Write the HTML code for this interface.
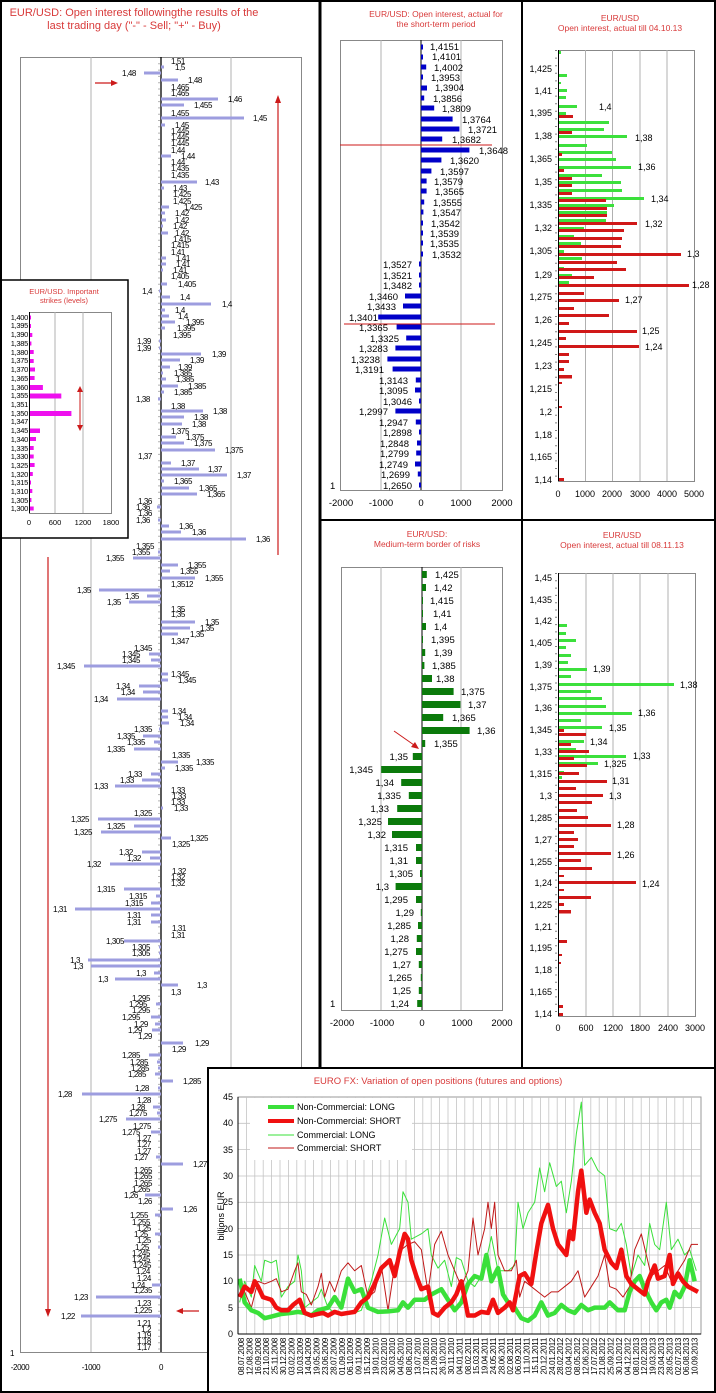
<!DOCTYPE html>
<html><head><meta charset="utf-8"><style>
html,body{margin:0;padding:0;background:#fff}
svg{display:block;font-family:"Liberation Sans",Arial,sans-serif}
.b{fill:#9d9ddf}
.t{font-size:8px;letter-spacing:-0.4px;fill:#000}
.m{font-size:9.5px;fill:#000}
.r{font-size:9px;fill:#000}
.ttl{fill:#d83a3a;text-anchor:middle}
.ax{font-size:9px;fill:#000}
.g{stroke:#b0b0b0;stroke-width:1}
.gb{fill:#0000c8}
.gg{fill:#0b7a0b}
.lg{fill:#3ce03c}
.lr{fill:#d01818}
</style></head><body>
<svg width="716" height="1393" viewBox="0 0 716 1393" xmlns="http://www.w3.org/2000/svg">
<rect width="716" height="1393" fill="#fff"/>

<!-- ================= LEFT BIG CHART ================= -->
<text class="ttl" x="134" y="16" font-size="11">EUR/USD: Open interest followingthe results of the</text>
<text class="ttl" x="134" y="29" font-size="11">last trading day ("-" - Sell; "+" - Buy)</text>
<rect x="20.5" y="57.5" width="281" height="1295" fill="none" stroke="#888"/>
<line class="g" x1="91" y1="57" x2="91" y2="1352"/>
<line class="g" x1="231" y1="57" x2="231" y2="1352"/>
<line x1="161" y1="57" x2="161" y2="1352" stroke="#000" stroke-width="1.3"/>
<line x1="159" y1="57" x2="159" y2="1352" stroke="#666" stroke-width="1" stroke-dasharray="1,5.3"/>
<g class="t">
<text x="10" y="1356">1</text>
<text x="20" y="1370" text-anchor="middle">-2000</text>
<text x="91" y="1370" text-anchor="middle">-1000</text>
<text x="161" y="1370" text-anchor="middle">0</text>
</g>
<g id="lb">
<rect class="b" x="161" y="65.5" width="3" height="3"/><rect class="b" x="144" y="71.5" width="17" height="3"/><rect class="b" x="161" y="78.5" width="17" height="3"/><rect class="b" x="161" y="97.5" width="57" height="3"/><rect class="b" x="161" y="103.5" width="23" height="3"/><rect class="b" x="161" y="116.5" width="83" height="3"/><rect class="b" x="161" y="123.5" width="4" height="3"/><rect class="b" x="161" y="154.5" width="10" height="3"/><rect class="b" x="161" y="180.5" width="36" height="3"/><rect class="b" x="161" y="186.5" width="3" height="3"/><rect class="b" x="161" y="205.5" width="8" height="3"/><rect class="b" x="161" y="211.5" width="4" height="3"/><rect class="b" x="161" y="218.5" width="5" height="3"/><rect class="b" x="161" y="224.5" width="2" height="3"/><rect class="b" x="161" y="231.5" width="7" height="3"/><rect class="b" x="161" y="256.5" width="5" height="3"/><rect class="b" x="161" y="262.5" width="5" height="3"/><rect class="b" x="161" y="268.5" width="2" height="3"/><rect class="b" x="161" y="282.5" width="6" height="3"/><rect class="b" x="159" y="289.5" width="2" height="3"/><rect class="b" x="161" y="295.5" width="9" height="3"/><rect class="b" x="161" y="302.5" width="50" height="3"/><rect class="b" x="161" y="308.5" width="4" height="3"/><rect class="b" x="161" y="314.5" width="8" height="3"/><rect class="b" x="161" y="320.5" width="14" height="3"/><rect class="b" x="161" y="326.5" width="4" height="3"/><rect class="b" x="159" y="339.5" width="2" height="3"/><rect class="b" x="159" y="346.5" width="2" height="3"/><rect class="b" x="161" y="352.5" width="40" height="3"/><rect class="b" x="161" y="358.5" width="19" height="3"/><rect class="b" x="161" y="365.5" width="9" height="3"/><rect class="b" x="161" y="371.5" width="2" height="3"/><rect class="b" x="161" y="377.5" width="5" height="3"/><rect class="b" x="161" y="384.5" width="17" height="3"/><rect class="b" x="161" y="390.5" width="3" height="3"/><rect class="b" x="158" y="397.5" width="3" height="3"/><rect class="b" x="161" y="409.5" width="42" height="3"/><rect class="b" x="161" y="415.5" width="23" height="3"/><rect class="b" x="161" y="422.5" width="21" height="3"/><rect class="b" x="161" y="435.5" width="15" height="3"/><rect class="b" x="161" y="441.5" width="23" height="3"/><rect class="b" x="161" y="448.5" width="54" height="3"/><rect class="b" x="161" y="461.5" width="10" height="3"/><rect class="b" x="161" y="467.5" width="38" height="3"/><rect class="b" x="161" y="473.5" width="66" height="3"/><rect class="b" x="161" y="479.5" width="3" height="3"/><rect class="b" x="161" y="486.5" width="28" height="3"/><rect class="b" x="161" y="492.5" width="36" height="3"/><rect class="b" x="157" y="505.5" width="4" height="3"/><rect class="b" x="158" y="518.5" width="3" height="3"/><rect class="b" x="161" y="524.5" width="8" height="3"/><rect class="b" x="161" y="530.5" width="20" height="3"/><rect class="b" x="161" y="537.5" width="85" height="3"/><rect class="b" x="158" y="550.5" width="3" height="3"/><rect class="b" x="133" y="556.5" width="28" height="3"/><rect class="b" x="161" y="563.5" width="17" height="3"/><rect class="b" x="161" y="569.5" width="9" height="3"/><rect class="b" x="161" y="576.5" width="34" height="3"/><rect class="b" x="99" y="588.5" width="62" height="3"/><rect class="b" x="147" y="594.5" width="14" height="3"/><rect class="b" x="129" y="600.5" width="32" height="3"/><rect class="b" x="161" y="620.5" width="34" height="3"/><rect class="b" x="161" y="626.5" width="29" height="3"/><rect class="b" x="161" y="632.5" width="17" height="3"/><rect class="b" x="149" y="652.5" width="12" height="3"/><rect class="b" x="151" y="658.5" width="10" height="3"/><rect class="b" x="84" y="664.5" width="77" height="3"/><rect class="b" x="161" y="672.5" width="7" height="3"/><rect class="b" x="161" y="678.5" width="7" height="3"/><rect class="b" x="139" y="684.5" width="22" height="3"/><rect class="b" x="143" y="690.5" width="18" height="3"/><rect class="b" x="117" y="697.5" width="44" height="3"/><rect class="b" x="161" y="709.5" width="7" height="3"/><rect class="b" x="161" y="715.5" width="7" height="3"/><rect class="b" x="161" y="721.5" width="8" height="3"/><rect class="b" x="159" y="727.5" width="2" height="3"/><rect class="b" x="143" y="734.5" width="18" height="3"/><rect class="b" x="154" y="740.5" width="7" height="3"/><rect class="b" x="134" y="747.5" width="27" height="3"/><rect class="b" x="161" y="760.5" width="17" height="3"/><rect class="b" x="161" y="766.5" width="4" height="3"/><rect class="b" x="151" y="772.5" width="10" height="3"/><rect class="b" x="142" y="778.5" width="19" height="3"/><rect class="b" x="115" y="784.5" width="46" height="3"/><rect class="b" x="161" y="806.5" width="2" height="3"/><rect class="b" x="98" y="817.5" width="63" height="3"/><rect class="b" x="134" y="824.5" width="27" height="3"/><rect class="b" x="101" y="830.5" width="60" height="3"/><rect class="b" x="161" y="836.5" width="10" height="3"/><rect class="b" x="142" y="850.5" width="19" height="3"/><rect class="b" x="150" y="856.5" width="11" height="3"/><rect class="b" x="110" y="862.5" width="51" height="3"/><rect class="b" x="124" y="887.5" width="37" height="3"/><rect class="b" x="156" y="894.5" width="5" height="3"/><rect class="b" x="151" y="901.5" width="10" height="3"/><rect class="b" x="75" y="907.5" width="86" height="3"/><rect class="b" x="151" y="913.5" width="10" height="3"/><rect class="b" x="151" y="920.5" width="10" height="3"/><rect class="b" x="124" y="939.5" width="37" height="3"/><rect class="b" x="159" y="945.5" width="2" height="3"/><rect class="b" x="159" y="951.5" width="2" height="3"/><rect class="b" x="88" y="958.5" width="73" height="3"/><rect class="b" x="91" y="964.5" width="70" height="3"/><rect class="b" x="154" y="971.5" width="7" height="3"/><rect class="b" x="115" y="977.5" width="46" height="3"/><rect class="b" x="161" y="983.5" width="17" height="3"/><rect class="b" x="156" y="1002.5" width="5" height="3"/><rect class="b" x="151" y="1015.5" width="10" height="3"/><rect class="b" x="155" y="1022.5" width="6" height="3"/><rect class="b" x="152" y="1028.5" width="9" height="3"/><rect class="b" x="161" y="1041.5" width="22" height="3"/><rect class="b" x="149" y="1053.5" width="12" height="3"/><rect class="b" x="157" y="1060.5" width="4" height="3"/><rect class="b" x="158" y="1066.5" width="3" height="3"/><rect class="b" x="155" y="1072.5" width="6" height="3"/><rect class="b" x="161" y="1079.5" width="12" height="3"/><rect class="b" x="158" y="1086.5" width="3" height="3"/><rect class="b" x="82" y="1092.5" width="79" height="3"/><rect class="b" x="153" y="1105.5" width="8" height="3"/><rect class="b" x="157" y="1111.5" width="4" height="3"/><rect class="b" x="126" y="1117.5" width="35" height="3"/><rect class="b" x="151" y="1130.5" width="10" height="3"/><rect class="b" x="156" y="1155.5" width="5" height="3"/><rect class="b" x="161" y="1162.5" width="22" height="3"/><rect class="b" x="145" y="1193.5" width="16" height="3"/><rect class="b" x="161" y="1207.5" width="12" height="3"/><rect class="b" x="155" y="1213.5" width="6" height="3"/><rect class="b" x="155" y="1232.5" width="6" height="3"/><rect class="b" x="158" y="1245.5" width="3" height="3"/><rect class="b" x="152" y="1283.5" width="9" height="3"/><rect class="b" x="96" y="1295.5" width="65" height="3"/><rect class="b" x="81" y="1314.5" width="80" height="3"/>
</g>
<g class="t">
<text x="171" y="64">1,51</text><text x="175" y="70">1,5</text><text x="136" y="76" text-anchor="end">1,48</text><text x="188" y="83">1,48</text><text x="171" y="90">1,465</text><text x="171" y="96">1,465</text><text x="228" y="102">1,46</text><text x="194" y="108">1,455</text><text x="171" y="116">1,455</text><text x="253" y="121">1,45</text><text x="175" y="128">1,45</text><text x="171" y="134">1,445</text><text x="171" y="140">1,445</text><text x="171" y="146">1,445</text><text x="171" y="153">1,44</text><text x="181" y="159">1,44</text><text x="171" y="165">1,44</text><text x="171" y="171">1,435</text><text x="171" y="178">1,435</text><text x="205" y="185">1,43</text><text x="173" y="191">1,43</text><text x="173" y="197">1,425</text><text x="173" y="204">1,425</text><text x="184" y="210">1,425</text><text x="175" y="216">1,42</text><text x="175" y="223">1,42</text><text x="173" y="229">1,42</text><text x="175" y="236">1,42</text><text x="173" y="242">1,415</text><text x="171" y="248">1,415</text><text x="171" y="255">1,41</text><text x="176" y="261">1,41</text><text x="176" y="267">1,41</text><text x="173" y="273">1,41</text><text x="171" y="279">1,405</text><text x="178" y="287">1,405</text><text x="152" y="294" text-anchor="end">1,4</text><text x="180" y="300">1,4</text><text x="222" y="307">1,4</text><text x="175" y="313">1,4</text><text x="178" y="319">1,4</text><text x="186" y="325">1,395</text><text x="177" y="331">1,395</text><text x="173" y="338">1,395</text><text x="151" y="344" text-anchor="end">1,39</text><text x="151" y="351" text-anchor="end">1,39</text><text x="212" y="357">1,39</text><text x="190" y="363">1,39</text><text x="178" y="370">1,39</text><text x="174" y="376">1,385</text><text x="176" y="382">1,385</text><text x="188" y="389">1,385</text><text x="174" y="395">1,385</text><text x="150" y="402" text-anchor="end">1,38</text><text x="171" y="409">1,38</text><text x="213" y="414">1,38</text><text x="194" y="420">1,38</text><text x="192" y="427">1,38</text><text x="171" y="434">1,375</text><text x="186" y="440">1,375</text><text x="194" y="446">1,375</text><text x="225" y="453">1,375</text><text x="152" y="459" text-anchor="end">1,37</text><text x="181" y="466">1,37</text><text x="208" y="472">1,37</text><text x="237" y="478">1,37</text><text x="174" y="484">1,365</text><text x="199" y="491">1,365</text><text x="207" y="497">1,365</text><text x="152" y="504" text-anchor="end">1,36</text><text x="150" y="510" text-anchor="end">1,36</text><text x="152" y="516" text-anchor="end">1,36</text><text x="150" y="523" text-anchor="end">1,36</text><text x="179" y="529">1,36</text><text x="192" y="535">1,36</text><text x="256" y="542">1,36</text><text x="154" y="549" text-anchor="end">1,355</text><text x="150" y="555" text-anchor="end">1,355</text><text x="124" y="561" text-anchor="end">1,355</text><text x="188" y="568">1,355</text><text x="180" y="574">1,355</text><text x="205" y="581">1,355</text><text x="171" y="587">1,3512</text><text x="91" y="593" text-anchor="end">1,35</text><text x="139" y="599" text-anchor="end">1,35</text><text x="121" y="605" text-anchor="end">1,35</text><text x="171" y="612">1,35</text><text x="171" y="617">1,35</text><text x="205" y="625">1,35</text><text x="200" y="631">1,35</text><text x="190" y="637">1,35</text><text x="171" y="644">1,347</text><text x="152" y="651" text-anchor="end">1,345</text><text x="140" y="657" text-anchor="end">1,345</text><text x="140" y="663" text-anchor="end">1,345</text><text x="75" y="669" text-anchor="end">1,345</text><text x="171" y="677">1,345</text><text x="178" y="683">1,345</text><text x="130" y="689" text-anchor="end">1,34</text><text x="135" y="695" text-anchor="end">1,34</text><text x="108" y="702" text-anchor="end">1,34</text><text x="172" y="714">1,34</text><text x="178" y="720">1,34</text><text x="180" y="726">1,34</text><text x="152" y="732" text-anchor="end">1,335</text><text x="135" y="739" text-anchor="end">1,335</text><text x="145" y="745" text-anchor="end">1,335</text><text x="125" y="752" text-anchor="end">1,335</text><text x="172" y="758">1,335</text><text x="196" y="765">1,335</text><text x="175" y="771">1,335</text><text x="142" y="777" text-anchor="end">1,33</text><text x="134" y="783" text-anchor="end">1,33</text><text x="108" y="789" text-anchor="end">1,33</text><text x="171" y="793">1,33</text><text x="172" y="799">1,33</text><text x="171" y="805">1,33</text><text x="174" y="811">1,33</text><text x="152" y="816" text-anchor="end">1,325</text><text x="89" y="822" text-anchor="end">1,325</text><text x="125" y="829" text-anchor="end">1,325</text><text x="92" y="835" text-anchor="end">1,325</text><text x="190" y="841">1,325</text><text x="172" y="847">1,325</text><text x="133" y="855" text-anchor="end">1,32</text><text x="141" y="861" text-anchor="end">1,32</text><text x="101" y="867" text-anchor="end">1,32</text><text x="172" y="874">1,32</text><text x="171" y="880">1,32</text><text x="171" y="886">1,32</text><text x="115" y="892" text-anchor="end">1,315</text><text x="147" y="899" text-anchor="end">1,315</text><text x="143" y="906" text-anchor="end">1,315</text><text x="67" y="912" text-anchor="end">1,31</text><text x="141" y="918" text-anchor="end">1,31</text><text x="141" y="925" text-anchor="end">1,31</text><text x="172" y="931">1,31</text><text x="171" y="938">1,31</text><text x="124" y="944" text-anchor="end">1,305</text><text x="150" y="950" text-anchor="end">1,305</text><text x="150" y="956" text-anchor="end">1,305</text><text x="80" y="963" text-anchor="end">1,3</text><text x="83" y="969" text-anchor="end">1,3</text><text x="146" y="976" text-anchor="end">1,3</text><text x="108" y="982" text-anchor="end">1,3</text><text x="197" y="988">1,3</text><text x="171" y="995">1,3</text><text x="150" y="1001" text-anchor="end">1,295</text><text x="147" y="1007" text-anchor="end">1,295</text><text x="150" y="1013" text-anchor="end">1,295</text><text x="140" y="1020" text-anchor="end">1,295</text><text x="148" y="1027" text-anchor="end">1,29</text><text x="142" y="1033" text-anchor="end">1,29</text><text x="152" y="1039" text-anchor="end">1,29</text><text x="195" y="1046">1,29</text><text x="172" y="1052">1,29</text><text x="140" y="1058" text-anchor="end">1,285</text><text x="148" y="1065" text-anchor="end">1,285</text><text x="149" y="1071" text-anchor="end">1,285</text><text x="146" y="1077" text-anchor="end">1,285</text><text x="183" y="1084">1,285</text><text x="149" y="1091" text-anchor="end">1,28</text><text x="72" y="1097" text-anchor="end">1,28</text><text x="151" y="1103" text-anchor="end">1,28</text><text x="145" y="1110" text-anchor="end">1,28</text><text x="147" y="1116" text-anchor="end">1,275</text><text x="117" y="1122" text-anchor="end">1,275</text><text x="151" y="1129" text-anchor="end">1,275</text><text x="140" y="1135" text-anchor="end">1,275</text><text x="151" y="1141" text-anchor="end">1,27</text><text x="151" y="1147" text-anchor="end">1,27</text><text x="151" y="1154" text-anchor="end">1,27</text><text x="148" y="1160" text-anchor="end">1,27</text><text x="193" y="1167">1,27</text><text x="152" y="1173" text-anchor="end">1,265</text><text x="152" y="1179" text-anchor="end">1,265</text><text x="152" y="1186" text-anchor="end">1,265</text><text x="150" y="1192" text-anchor="end">1,265</text><text x="138" y="1198" text-anchor="end">1,26</text><text x="152" y="1204" text-anchor="end">1,26</text><text x="183" y="1212">1,26</text><text x="148" y="1218" text-anchor="end">1,255</text><text x="150" y="1225" text-anchor="end">1,255</text><text x="151" y="1231" text-anchor="end">1,25</text><text x="148" y="1237" text-anchor="end">1,25</text><text x="151" y="1243" text-anchor="end">1,25</text><text x="149" y="1250" text-anchor="end">1,25</text><text x="150" y="1256" text-anchor="end">1,245</text><text x="150" y="1262" text-anchor="end">1,245</text><text x="151" y="1268" text-anchor="end">1,245</text><text x="150" y="1274" text-anchor="end">1,24</text><text x="151" y="1281" text-anchor="end">1,24</text><text x="145" y="1288" text-anchor="end">1,24</text><text x="152" y="1293" text-anchor="end">1,235</text><text x="88" y="1300" text-anchor="end">1,23</text><text x="151" y="1306" text-anchor="end">1,23</text><text x="152" y="1313" text-anchor="end">1,225</text><text x="75" y="1319" text-anchor="end">1,22</text><text x="151" y="1326" text-anchor="end">1,21</text><text x="151" y="1332" text-anchor="end">1,2</text><text x="151" y="1338" text-anchor="end">1,19</text><text x="151" y="1344" text-anchor="end">1,18</text><text x="151" y="1350" text-anchor="end">1,17</text>
</g>
<!-- left chart arrows -->
<g stroke="#cc1a1a" stroke-width="1.2" fill="#cc1a1a">
<line x1="95" y1="83" x2="113" y2="83"/><path d="M118,83 l-7,-3 v6z" stroke="none"/>
<line x1="278" y1="100" x2="278" y2="555"/><path d="M278,95 l-3,8 h6z" stroke="none"/>
<line x1="48" y1="557" x2="48" y2="1310"/><path d="M48,1317 l-3,-8 h6z" stroke="none"/>
<line x1="182" y1="1311" x2="199" y2="1311"/><path d="M176,1311 l7,-3 v6z" stroke="none"/>
</g>

<!-- Important strikes inset -->
<rect x="1" y="280" width="127" height="258" fill="#fff" stroke="#000" stroke-width="1.5"/>
<text class="ttl" x="64" y="294" font-size="7.5">EUR/USD. Important</text>
<text class="ttl" x="64" y="303" font-size="7.5">strikes (levels)</text>
<rect x="29.5" y="312.5" width="82" height="201" fill="none" stroke="#888"/>
<line class="g" x1="55" y1="312" x2="55" y2="513"/><line class="g" x1="83" y1="312" x2="83" y2="513"/>
<line x1="29.5" y1="312" x2="29.5" y2="513" stroke="#000"/>
<g fill="#ee10ee">
<rect x="30" y="315.5" width="1" height="4"/><rect x="30" y="324" width="1" height="4"/><rect x="30" y="333" width="2.3" height="4"/><rect x="30" y="341.5" width="1.4" height="4"/><rect x="30" y="350" width="3.7" height="4"/><rect x="30" y="359" width="3.7" height="4"/><rect x="30" y="367.5" width="5" height="4"/><rect x="30" y="376" width="4.6" height="4"/><rect x="30" y="385" width="12.9" height="5"/><rect x="30" y="393.5" width="31.3" height="5"/><rect x="30" y="411" width="41.4" height="5"/><rect x="30" y="428.5" width="10" height="4.5"/><rect x="30" y="437" width="6" height="4"/><rect x="30" y="446" width="3.7" height="4"/><rect x="30" y="454.5" width="3.7" height="4"/><rect x="30" y="463" width="4.6" height="4"/><rect x="30" y="472" width="2.8" height="4"/><rect x="30" y="480.5" width="1" height="4"/><rect x="30" y="489" width="2.3" height="4"/><rect x="30" y="498" width="1.4" height="4"/><rect x="30" y="506.5" width="3.7" height="4"/>
</g>
<g font-size="7.5" text-anchor="end" fill="#000" letter-spacing="-0.3">
<text x="28" y="320">1,400</text><text x="28" y="328">1,395</text><text x="28" y="337">1,390</text><text x="28" y="346">1,385</text><text x="28" y="355">1,380</text><text x="28" y="363">1,375</text><text x="28" y="372">1,370</text><text x="28" y="381">1,365</text><text x="28" y="390">1,360</text><text x="28" y="398">1,355</text><text x="28" y="407">1,351</text><text x="28" y="416">1,350</text><text x="28" y="424">1,347</text><text x="28" y="433">1,345</text><text x="28" y="442">1,340</text><text x="28" y="451">1,335</text><text x="28" y="459">1,330</text><text x="28" y="468">1,325</text><text x="28" y="477">1,320</text><text x="28" y="485">1,315</text><text x="28" y="494">1,310</text><text x="28" y="503">1,305</text><text x="28" y="511">1,300</text>
</g>
<g font-size="7.5" text-anchor="middle" fill="#000"><text x="29" y="525">0</text><text x="55" y="525">600</text><text x="83" y="525">1200</text><text x="111" y="525">1800</text></g>
<g stroke="#cc1a1a" fill="#cc1a1a" stroke-width="1"><line x1="80" y1="390" x2="80" y2="427"/><path d="M80,386 l-3,6 h6z M80,431 l-3,-6 h6z" stroke="none"/></g>

<!-- ================= MID TOP ================= -->
<text class="ttl" x="436" y="17" font-size="8.5">EUR/USD: Open interest, actual for</text>
<text class="ttl" x="436" y="27" font-size="8.5">the short-term period</text>
<rect x="340.5" y="40.5" width="162" height="450" fill="none" stroke="#888"/>
<line class="g" x1="381" y1="40" x2="381" y2="490"/><line class="g" x1="461" y1="40" x2="461" y2="490"/>
<line x1="421" y1="40" x2="421" y2="490" stroke="#000"/>
<g class="gb">
<rect x="421" y="44.5" width="2" height="5"/><rect x="421" y="54.5" width="2" height="5"/><rect x="421" y="64.5" width="5.2" height="5"/><rect x="421" y="74.5" width="2" height="5"/><rect x="421" y="85.5" width="6" height="5"/><rect x="421" y="95.5" width="3.2" height="5"/><rect x="421" y="105.5" width="13.2" height="5"/><rect x="421" y="116.5" width="31.6" height="5"/><rect x="421" y="126.5" width="38.4" height="5"/><rect x="421" y="136.5" width="21.2" height="5"/><rect x="421" y="147.5" width="48.4" height="5"/><rect x="421" y="157.5" width="20.4" height="5"/><rect x="421" y="168.5" width="10.4" height="5"/><rect x="421" y="178.5" width="5.6" height="5"/><rect x="421" y="188.5" width="5.6" height="5"/><rect x="421" y="199.5" width="3.2" height="5"/><rect x="421" y="209.5" width="2.4" height="5"/><rect x="421" y="220.5" width="2" height="5"/><rect x="421" y="230.5" width="2" height="5"/><rect x="421" y="240.5" width="2" height="5"/><rect x="421" y="251.5" width="2" height="5"/>
<rect x="419" y="261.5" width="2" height="5"/><rect x="419" y="272.5" width="2" height="5"/><rect x="419" y="282.5" width="2" height="5"/><rect x="405" y="293.5" width="16" height="5"/><rect x="403" y="303.5" width="18" height="5"/><rect x="378.2" y="314.5" width="42.8" height="5"/><rect x="396.6" y="324.5" width="24.4" height="5"/><rect x="406.2" y="335.5" width="14.8" height="5"/><rect x="395.4" y="345.5" width="25.6" height="5"/><rect x="387.4" y="356.5" width="33.6" height="5"/><rect x="392.6" y="366.5" width="28.4" height="5"/><rect x="415.8" y="377.5" width="5.2" height="5"/><rect x="415" y="387.5" width="6" height="5"/><rect x="419" y="398.5" width="2" height="5"/><rect x="395.4" y="408.5" width="25.6" height="5"/><rect x="415.8" y="419.5" width="5.2" height="5"/><rect x="419" y="429.5" width="2" height="5"/><rect x="417" y="440.5" width="4" height="5"/><rect x="416.2" y="450.5" width="4.8" height="5"/><rect x="415" y="461.5" width="6" height="5"/><rect x="417.8" y="471.5" width="3.2" height="5"/><rect x="419" y="482.5" width="2" height="5"/>
</g>
<g class="m">
<text x="430" y="50">1,4151</text><text x="432" y="60">1,4101</text><text x="434" y="71">1,4002</text><text x="431" y="81">1,3953</text><text x="435" y="91">1,3904</text><text x="433" y="102">1,3856</text><text x="442" y="112">1,3809</text><text x="462" y="123">1,3764</text><text x="468" y="133">1,3721</text><text x="452" y="143">1,3682</text><text x="479" y="154">1,3648</text><text x="450" y="164">1,3620</text><text x="440" y="175">1,3597</text><text x="434" y="185">1,3579</text><text x="435" y="195">1,3565</text><text x="433" y="206">1,3555</text><text x="432" y="216">1,3547</text><text x="431" y="227">1,3542</text><text x="430" y="237">1,3539</text><text x="430" y="247">1,3535</text><text x="432" y="258">1,3532</text>
<g text-anchor="end"><text x="412" y="268">1,3527</text><text x="412" y="279">1,3521</text><text x="412" y="289">1,3482</text><text x="398" y="300">1,3460</text><text x="396" y="310">1,3433</text><text x="378" y="321">1,3401</text><text x="388" y="331">1,3365</text><text x="399" y="342">1,3325</text><text x="388" y="352">1,3283</text><text x="380" y="363">1,3238</text><text x="384" y="373">1,3191</text><text x="408" y="384">1,3143</text><text x="408" y="394">1,3095</text><text x="412" y="405">1,3046</text><text x="388" y="415">1,2997</text><text x="408" y="426">1,2947</text><text x="412" y="436">1,2898</text><text x="409" y="447">1,2848</text><text x="409" y="457">1,2799</text><text x="408" y="468">1,2749</text><text x="410" y="478">1,2699</text><text x="412" y="489">1,2650</text></g>
<text x="330" y="489">1</text>
</g>
<line x1="340" y1="145" x2="492" y2="145" stroke="#cc1a1a"/>
<line x1="344" y1="324" x2="495" y2="324" stroke="#cc1a1a"/>
<g class="m" text-anchor="middle"><text x="341" y="506">-2000</text><text x="381" y="506">-1000</text><text x="421" y="506">0</text><text x="461" y="506">1000</text><text x="502" y="506">2000</text></g>

<!-- ================= RIGHT TOP ================= -->
<text class="ttl" x="620" y="21" font-size="8.5">EUR/USD</text>
<text class="ttl" x="620" y="31" font-size="8.5">Open interest, actual till 04.10.13</text>
<rect x="558.5" y="50.5" width="136" height="431" fill="none" stroke="#888"/>
<g class="g"><line x1="585.5" y1="50" x2="585.5" y2="481"/><line x1="612.5" y1="50" x2="612.5" y2="481"/><line x1="640" y1="50" x2="640" y2="481"/><line x1="667" y1="50" x2="667" y2="481"/></g>
<line x1="558.5" y1="50" x2="558.5" y2="481" stroke="#000"/>
<line x1="556" y1="50" x2="556" y2="481" stroke="#000" stroke-dasharray="1,6.6"/>
<g class="lg">
<rect x="559" y="51" width="2" height="3"/><rect x="559" y="74" width="8" height="3"/><rect x="559" y="82" width="2" height="2"/><rect x="559" y="89" width="8" height="3"/><rect x="559" y="96" width="7" height="3"/><rect x="559" y="105" width="18" height="3"/><rect x="559" y="112" width="7" height="3"/><rect x="559" y="121" width="50" height="3"/><rect x="559" y="128" width="45" height="3"/><rect x="559" y="135" width="68" height="3"/><rect x="559" y="144" width="28" height="3"/><rect x="559" y="151" width="53" height="3"/><rect x="559" y="158" width="57" height="3"/><rect x="559" y="166" width="72" height="3"/><rect x="559" y="174" width="43" height="3"/><rect x="559" y="181" width="62" height="3"/><rect x="559" y="189" width="63" height="3"/><rect x="559" y="197" width="85" height="3"/><rect x="559" y="204" width="55" height="3"/><rect x="559" y="211" width="48" height="3"/><rect x="559" y="219" width="47" height="3"/><rect x="559" y="227" width="25" height="3"/><rect x="559" y="235" width="15" height="3"/><rect x="559" y="242" width="22" height="3"/><rect x="559" y="250" width="5" height="3"/><rect x="559" y="257" width="23" height="3"/><rect x="559" y="267" width="5" height="3"/><rect x="559" y="274" width="13" height="3"/><rect x="559" y="281" width="10" height="3"/>
</g>
<g class="lr">
<rect x="559" y="115" width="14" height="3"/><rect x="559" y="131" width="13" height="3"/><rect x="559" y="153" width="3" height="3"/><rect x="559" y="169" width="5" height="3"/><rect x="559" y="177" width="13" height="3"/><rect x="559" y="184" width="13" height="3"/><rect x="559" y="192" width="13" height="3"/><rect x="559" y="199" width="47" height="3"/><rect x="559" y="207" width="48" height="3"/><rect x="559" y="214" width="48" height="3"/><rect x="559" y="222" width="78" height="3"/><rect x="559" y="229" width="65" height="3"/><rect x="559" y="237" width="63" height="3"/><rect x="559" y="245" width="62" height="3"/><rect x="559" y="253" width="122" height="3"/><rect x="559" y="261" width="58" height="3"/><rect x="559" y="268" width="67" height="3"/><rect x="559" y="276" width="35" height="3"/><rect x="559" y="284" width="130" height="3"/><rect x="559" y="292" width="25" height="3"/><rect x="559" y="299" width="60" height="3"/><rect x="559" y="307" width="15" height="3"/><rect x="559" y="314" width="50" height="3"/><rect x="559" y="322" width="10" height="3"/><rect x="559" y="330" width="78" height="3"/><rect x="559" y="337" width="7" height="3"/><rect x="559" y="345" width="80" height="3"/><rect x="559" y="353" width="10" height="3"/><rect x="559" y="360" width="10" height="3"/><rect x="559" y="368" width="5" height="3"/><rect x="559" y="375" width="13" height="3.5"/><rect x="559" y="382" width="3" height="2"/><rect x="559" y="406" width="3" height="2"/><rect x="559" y="478" width="5" height="3"/>
</g>
<g class="r">
<text x="599" y="110">1,4</text><text x="635" y="141">1,38</text><text x="638" y="170">1,36</text><text x="651" y="202">1,34</text><text x="645" y="227">1,32</text><text x="687" y="257">1,3</text><text x="692" y="288">1,28</text><text x="625" y="303">1,27</text><text x="642" y="334">1,25</text><text x="645" y="350">1,24</text>
</g>
<g class="r" text-anchor="end">
<text x="552" y="72">1,425</text><text x="552" y="94">1,41</text><text x="552" y="116">1,395</text><text x="552" y="139">1,38</text><text x="552" y="162">1,365</text><text x="552" y="185">1,35</text><text x="552" y="208">1,335</text><text x="552" y="231">1,32</text><text x="552" y="254">1,305</text><text x="552" y="278">1,29</text><text x="552" y="300">1,275</text><text x="552" y="323">1,26</text><text x="552" y="346">1,245</text><text x="552" y="369">1,23</text><text x="552" y="392">1,215</text><text x="552" y="415">1,2</text><text x="552" y="438">1,18</text><text x="552" y="460">1,165</text><text x="552" y="483">1,14</text>
</g>
<g class="r" text-anchor="middle"><text x="558" y="497">0</text><text x="585" y="497">1000</text><text x="612" y="497">2000</text><text x="640" y="497">3000</text><text x="667" y="497">4000</text><text x="694" y="497">5000</text></g>

<!-- ================= MID BOTTOM ================= -->
<text class="ttl" x="427" y="537" font-size="8.5">EUR/USD:</text>
<text class="ttl" x="427" y="547" font-size="8.5">Medium-term border of risks</text>
<rect x="341.5" y="567.5" width="161" height="443" fill="none" stroke="#888"/>
<line class="g" x1="381" y1="567" x2="381" y2="1010"/><line class="g" x1="461" y1="567" x2="461" y2="1010"/>
<line x1="422" y1="567" x2="422" y2="1010" stroke="#000"/>
<g class="gg">
<rect x="422" y="571" width="4.8" height="7"/><rect x="422" y="584" width="4" height="7"/><rect x="422" y="597" width="1" height="7"/><rect x="422" y="610" width="1" height="7"/><rect x="422" y="623" width="4" height="7"/><rect x="422" y="636" width="1" height="7"/><rect x="422" y="649" width="3.2" height="7"/><rect x="422" y="662" width="2.4" height="7"/><rect x="422" y="675" width="10" height="7"/><rect x="422" y="688" width="31.6" height="7"/><rect x="422" y="701" width="38.4" height="7"/><rect x="422" y="714" width="21.2" height="7"/><rect x="422" y="727" width="47.6" height="7"/><rect x="422" y="740" width="3.2" height="7"/>
<rect x="412.8" y="753" width="9.2" height="7"/><rect x="381.2" y="766" width="40.8" height="7"/><rect x="401.2" y="779" width="20.8" height="7"/><rect x="408.8" y="792" width="13.2" height="7"/><rect x="397.2" y="805" width="24.8" height="7"/><rect x="388" y="818" width="34" height="7"/><rect x="392" y="831" width="30" height="7"/><rect x="416" y="844" width="6" height="7"/><rect x="416" y="857" width="6" height="7"/><rect x="420" y="870" width="2" height="7"/><rect x="395.6" y="883" width="26.4" height="7"/><rect x="416" y="896" width="6" height="7"/><rect x="420.8" y="909" width="1.2" height="7"/><rect x="418" y="922" width="4" height="7"/><rect x="416.8" y="935" width="5.2" height="7"/><rect x="416" y="948" width="6" height="7"/><rect x="418.8" y="961" width="3.2" height="7"/><rect x="420.8" y="974" width="1.2" height="7"/><rect x="418.8" y="987" width="3.2" height="7"/><rect x="417.2" y="1000" width="4.8" height="7"/>
</g>
<g class="m">
<text x="435" y="578">1,425</text><text x="434" y="591">1,42</text><text x="430" y="604">1,415</text><text x="433" y="617">1,41</text><text x="434" y="630">1,4</text><text x="431" y="643">1,395</text><text x="434" y="656">1,39</text><text x="432" y="669">1,385</text><text x="436" y="682">1,38</text><text x="461" y="695">1,375</text><text x="468" y="708">1,37</text><text x="452" y="721">1,365</text><text x="477" y="734">1,36</text><text x="434" y="747">1,355</text>
<g text-anchor="end"><text x="408" y="760">1,35</text><text x="373" y="773">1,345</text><text x="394" y="786">1,34</text><text x="401" y="799">1,335</text><text x="389" y="812">1,33</text><text x="382" y="825">1,325</text><text x="386" y="838">1,32</text><text x="408" y="851">1,315</text><text x="408" y="864">1,31</text><text x="413" y="877">1,305</text><text x="389" y="890">1,3</text><text x="408" y="903">1,295</text><text x="414" y="916">1,29</text><text x="411" y="929">1,285</text><text x="409" y="942">1,28</text><text x="408" y="955">1,275</text><text x="411" y="968">1,27</text><text x="412" y="981">1,265</text><text x="411" y="994">1,25</text><text x="409" y="1007">1,24</text></g>
<text x="330" y="1007">1</text>
</g>
<g stroke="#cc1a1a" fill="#cc1a1a"><line x1="394" y1="731" x2="414" y2="745"/><path d="M419,749 l-8,-2 l4,-5z" stroke="none"/></g>
<g class="m" text-anchor="middle"><text x="342" y="1026">-2000</text><text x="382" y="1026">-1000</text><text x="422" y="1026">0</text><text x="462" y="1026">1000</text><text x="502" y="1026">2000</text></g>

<!-- ================= RIGHT BOTTOM ================= -->
<text class="ttl" x="622" y="538" font-size="8.5">EUR/USD</text>
<text class="ttl" x="622" y="548" font-size="8.5">Open interest, actual till 08.11.13</text>
<rect x="558.5" y="573.5" width="137" height="443" fill="none" stroke="#888"/>
<g class="g"><line x1="586" y1="573" x2="586" y2="1016"/><line x1="613" y1="573" x2="613" y2="1016"/><line x1="640" y1="573" x2="640" y2="1016"/><line x1="668" y1="573" x2="668" y2="1016"/></g>
<line x1="558.5" y1="573" x2="558.5" y2="1016" stroke="#000"/>
<line x1="556" y1="573" x2="556" y2="1016" stroke="#000" stroke-dasharray="1,6.3"/>
<g class="lg">
<rect x="559" y="624" width="8" height="3"/><rect x="559" y="632" width="7" height="3"/><rect x="559" y="639" width="17" height="3"/><rect x="559" y="646" width="7" height="3"/><rect x="559" y="654" width="12" height="3"/><rect x="559" y="661" width="9" height="3"/><rect x="559" y="668" width="28" height="3"/><rect x="559" y="675" width="12" height="3"/><rect x="559" y="683" width="115" height="3"/><rect x="559" y="690" width="32" height="3"/><rect x="559" y="697" width="43" height="3"/><rect x="559" y="705" width="47" height="3"/><rect x="559" y="712" width="73" height="3"/><rect x="559" y="719" width="22" height="3"/><rect x="559" y="726" width="43" height="3"/><rect x="559" y="740" width="25" height="3"/><rect x="559" y="748" width="17" height="3"/><rect x="559" y="755" width="67" height="3"/><rect x="559" y="762" width="39" height="3"/><rect x="559" y="771" width="5" height="3"/><rect x="559" y="776" width="3" height="3"/>
</g>
<g class="lr">
<rect x="559" y="729" width="5" height="3"/><rect x="559" y="733" width="27" height="3"/><rect x="559" y="743" width="12" height="3"/><rect x="559" y="750" width="30" height="3"/><rect x="559" y="757" width="15" height="3"/><rect x="559" y="764" width="28" height="3"/><rect x="559" y="772" width="20" height="3"/><rect x="559" y="780" width="48" height="3"/><rect x="559" y="787" width="17" height="3"/><rect x="559" y="794" width="44" height="3"/><rect x="559" y="801" width="33" height="3"/><rect x="559" y="809" width="18" height="3"/><rect x="559" y="816" width="29" height="3"/><rect x="559" y="824" width="52" height="3"/><rect x="559" y="831" width="15" height="3"/><rect x="559" y="838" width="19" height="3"/><rect x="559" y="845" width="15" height="3"/><rect x="559" y="852" width="52" height="3"/><rect x="559" y="859" width="22" height="3"/><rect x="559" y="867" width="33" height="3"/><rect x="559" y="875" width="5" height="2"/><rect x="559" y="881" width="77" height="3"/><rect x="559" y="889" width="5" height="2"/><rect x="559" y="896" width="32" height="3"/><rect x="559" y="903" width="5" height="3"/><rect x="559" y="910" width="12" height="3.5"/><rect x="559" y="940" width="8" height="3"/><rect x="559" y="954" width="3" height="2"/><rect x="559" y="962" width="2" height="2"/><rect x="559" y="1005" width="4" height="3"/><rect x="559" y="1013" width="4" height="3"/>
</g>
<g class="r">
<text x="593" y="672">1,39</text><text x="680" y="688">1,38</text><text x="638" y="716">1,36</text><text x="609" y="731">1,35</text><text x="590" y="745">1,34</text><text x="633" y="759">1,33</text><text x="604" y="767">1,325</text><text x="612" y="784">1,31</text><text x="609" y="799">1,3</text><text x="617" y="828">1,28</text><text x="617" y="858">1,26</text><text x="642" y="887">1,24</text>
</g>
<g class="r" text-anchor="end">
<text x="552" y="581">1,45</text><text x="552" y="603">1,435</text><text x="552" y="624">1,42</text><text x="552" y="646">1,405</text><text x="552" y="668">1,39</text><text x="552" y="690">1,375</text><text x="552" y="711">1,36</text><text x="552" y="733">1,345</text><text x="552" y="755">1,33</text><text x="552" y="777">1,315</text><text x="552" y="799">1,3</text><text x="552" y="821">1,285</text><text x="552" y="843">1,27</text><text x="552" y="865">1,255</text><text x="552" y="886">1,24</text><text x="552" y="908">1,225</text><text x="552" y="930">1,21</text><text x="552" y="951">1,195</text><text x="552" y="973">1,18</text><text x="552" y="995">1,165</text><text x="552" y="1017">1,14</text>
</g>
<g class="r" text-anchor="middle"><text x="558" y="1031">0</text><text x="586" y="1031">600</text><text x="613" y="1031">1200</text><text x="640" y="1031">1800</text><text x="668" y="1031">2400</text><text x="695" y="1031">3000</text></g>

<!-- panel borders -->
<g stroke="#000" fill="none">
<rect x="1" y="1" width="319" height="1391" stroke-width="2"/>
<line x1="320" y1="0" x2="320" y2="1068" stroke-width="3"/>
<line x1="522" y1="0" x2="522" y2="1068" stroke-width="2"/>
<line x1="320" y1="520" x2="716" y2="520" stroke-width="2"/>
<line x1="715" y1="0" x2="715" y2="1068" stroke-width="2"/>
<line x1="320" y1="1" x2="716" y2="1" stroke-width="2"/>
</g>

<!-- ================= BOTTOM TIME SERIES ================= -->
<rect x="208" y="1068" width="507" height="324" fill="#fff" stroke="#000" stroke-width="2"/>
<text class="ttl" x="438" y="1084" font-size="9.5">EURO FX: Variation of open positions (futures and options)</text>
<rect x="238" y="1097" width="463" height="237" fill="#fff" stroke="#999"/>
<g stroke="#c4c4c4" stroke-width="0.8">
<path d="M246.4,1097V1334M254.8,1097V1334M263.2,1097V1334M271.6,1097V1334M280,1097V1334M288.4,1097V1334M296.8,1097V1334M305.2,1097V1334M313.6,1097V1334M322,1097V1334M330.4,1097V1334M338.8,1097V1334M347.2,1097V1334M355.6,1097V1334M364,1097V1334M372.4,1097V1334M380.8,1097V1334M389.2,1097V1334M397.6,1097V1334M406,1097V1334M414.4,1097V1334M422.8,1097V1334M431.2,1097V1334M439.6,1097V1334M448,1097V1334M456.4,1097V1334M464.8,1097V1334M473.2,1097V1334M481.6,1097V1334M490,1097V1334M498.4,1097V1334M506.8,1097V1334M515.2,1097V1334M523.6,1097V1334M532,1097V1334M540.4,1097V1334M548.8,1097V1334M557.2,1097V1334M565.6,1097V1334M574,1097V1334M582.4,1097V1334M590.8,1097V1334M599.2,1097V1334M607.6,1097V1334M616,1097V1334M624.4,1097V1334M632.8,1097V1334M641.2,1097V1334M649.6,1097V1334M658,1097V1334M666.4,1097V1334M674.8,1097V1334M683.2,1097V1334M691.6,1097V1334"/>
<path d="M238,1307.6H701M238,1281.3H701M238,1255H701M238,1228.6H701M238,1202.3H701M238,1176H701M238,1149.6H701M238,1123.3H701"/>
</g>
<rect x="250" y="1098" width="162" height="62" fill="#fff"/>
<g transform="translate(208,1334) scale(0.33333,-5.27)" fill="none" stroke-linejoin="round">
<polyline vector-effect="non-scaling-stroke" stroke="#3ae03a" stroke-width="1" points="95,6 110,10 130,7 140,13 160,10 170,14 190,13.5 205,14 220,7 240,9 260,10 270,15 280,12 290,5 310,6 330,7 340,8.5 360,5 380,4 400,4 430,3.8 460,4.5 490,10 510,15 530,22 550,17 575,20 585,27 600,25 610,18 640,19 660,20 670,15 690,12.5 710,14 730,9 745,14.5 760,14 780,10 800,9 820,11 835,14 850,18.5 870,12 900,12 920,13 930,25 945,20 960,23 980,25 995,31.5 1010,27 1025,32.5 1045,28 1060,29 1075,23 1090,29 1105,38 1120,44 1130,32 1150,33.5 1170,31 1190,30 1205,20 1225,19.5 1240,21 1255,17 1270,11 1290,15 1310,13 1325,21 1340,17 1355,16 1375,25 1390,16 1410,18 1430,15 1445,16 1465,12"/>
<polyline vector-effect="non-scaling-stroke" stroke="#c01818" stroke-width="1" points="95,10 110,8 130,5 150,10 170,9.5 190,10 205,10.5 220,8 240,8.5 260,12 270,13.5 280,8 295,7.5 310,5.5 330,9 340,11.5 350,7 365,10 380,8 400,12 420,13.5 440,12 460,13 480,7 500,8 520,13 540,4.5 560,13 580,16 600,17 620,17.5 640,16 660,8 680,17 700,19.5 720,15 740,12 760,9 780,12 795,22 810,15 830,20 840,25 850,20 860,25 870,15 890,12 910,12 925,14 935,7 950,10 970,9 990,8 1010,7 1030,8 1050,8 1070,9 1090,10 1110,12 1130,7 1150,9 1170,11 1190,15 1205,9 1225,8.5 1245,7 1265,9 1280,16 1300,19 1315,15 1330,11 1350,12 1370,13 1390,10 1410,12 1430,14 1450,17 1470,17"/>
<polyline vector-effect="non-scaling-stroke" stroke="#3ae03a" stroke-width="4.5" points="95,10.5 110,6 130,4.5 150,4 170,3 190,3.3 220,3.8 250,4 270,4.2 290,4 310,3.5 330,4.5 360,5 380,7 400,5 420,10.5 440,8 460,8.5 480,5 510,4.2 540,4.3 570,4.5 585,6 600,5 620,6.5 650,6.5 670,7.5 700,8.5 720,6.5 740,4.5 760,6 780,9.5 800,11 820,10.5 835,15 850,10 870,12.5 885,7.5 900,6 920,5 940,3 960,2.5 980,3.5 1000,6 1020,3.5 1040,4 1060,5.5 1080,4.5 1100,4 1120,5.5 1140,4.5 1160,5 1190,5 1205,6 1230,4.5 1250,4.5 1265,8 1280,10 1295,11 1310,8.5 1330,6 1345,4.5 1360,6 1375,6.5 1385,5 1400,8 1415,7 1430,9 1445,14 1460,10"/>
<polyline vector-effect="non-scaling-stroke" stroke="#f01010" stroke-width="4.5" points="95,7 110,9 130,8 140,10 150,9 165,7 190,6.5 205,5 220,4.5 240,4.5 255,5.5 275,6.5 290,4 310,3.5 330,3.8 345,4 360,3.5 380,4.2 400,3.8 420,4 440,4.2 460,6 480,7 500,9.5 520,12.5 545,14 560,11 575,15.5 590,19 600,18 610,14 625,11 640,8.5 660,9 675,4 690,3.5 710,5 730,6 745,7.5 760,10 780,3.5 800,3.5 820,4.2 840,4 855,6.5 870,4 890,5 905,6 915,4.5 935,11 950,11.5 970,9.5 985,15.5 1000,21 1020,24.5 1035,20 1050,17 1075,15 1085,19.5 1095,18 1110,27 1120,31 1135,23 1145,25.5 1160,23 1175,21 1190,16 1210,13.5 1225,12.5 1240,16 1255,11 1270,9.5 1290,8.5 1310,7.5 1320,10 1340,13 1350,10.5 1370,11 1385,15 1395,9.5 1410,11.5 1425,10 1440,9 1470,8"/>
</g>
<line x1="238" y1="1097" x2="238" y2="1334" stroke="#000"/>
<line x1="238" y1="1334" x2="701" y2="1334" stroke="#000"/>
<g font-size="9" text-anchor="end" fill="#000">
<text x="233" y="1337">0</text><text x="233" y="1311">5</text><text x="233" y="1284">10</text><text x="233" y="1258">15</text><text x="233" y="1232">20</text><text x="233" y="1205">25</text><text x="233" y="1179">30</text><text x="233" y="1153">35</text><text x="233" y="1126">40</text><text x="233" y="1100">45</text>
</g>
<text transform="translate(224,1216) rotate(-90)" font-size="9" text-anchor="middle" fill="#000">billions EUR</text>
<g stroke-linecap="butt">
<line x1="268" y1="1107" x2="294" y2="1107" stroke="#3ae03a" stroke-width="4"/>
<line x1="268" y1="1121" x2="294" y2="1121" stroke="#f01010" stroke-width="4"/>
<line x1="268" y1="1135" x2="294" y2="1135" stroke="#3ae03a" stroke-width="1"/>
<line x1="268" y1="1148" x2="294" y2="1148" stroke="#c01818" stroke-width="1"/>
</g>
<g font-size="9" fill="#000">
<text x="297" y="1110">Non-Commercial: LONG</text><text x="297" y="1124">Non-Commercial: SHORT</text><text x="297" y="1138">Commercial: LONG</text><text x="297" y="1151">Commercial: SHORT</text>
</g>
<g font-size="8" fill="#000" text-anchor="end" letter-spacing="-0.3">
<text transform="translate(244,1338) rotate(-90)">08.07.2008</text><text transform="translate(252.4,1338) rotate(-90)">12.08.2008</text><text transform="translate(260.8,1338) rotate(-90)">16.09.2008</text><text transform="translate(269.2,1338) rotate(-90)">21.10.2008</text><text transform="translate(277.6,1338) rotate(-90)">25.11.2008</text><text transform="translate(286,1338) rotate(-90)">30.12.2008</text><text transform="translate(294.4,1338) rotate(-90)">03.02.2009</text><text transform="translate(302.8,1338) rotate(-90)">10.03.2009</text><text transform="translate(311.2,1338) rotate(-90)">14.04.2009</text><text transform="translate(319.6,1338) rotate(-90)">19.05.2009</text><text transform="translate(328,1338) rotate(-90)">23.06.2009</text><text transform="translate(336.4,1338) rotate(-90)">28.07.2009</text><text transform="translate(344.8,1338) rotate(-90)">01.09.2009</text><text transform="translate(353.2,1338) rotate(-90)">06.10.2009</text><text transform="translate(361.6,1338) rotate(-90)">09.11.2009</text><text transform="translate(370,1338) rotate(-90)">15.12.2009</text><text transform="translate(378.4,1338) rotate(-90)">19.01.2010</text><text transform="translate(386.8,1338) rotate(-90)">23.02.2010</text><text transform="translate(395.2,1338) rotate(-90)">30.03.2010</text><text transform="translate(403.6,1338) rotate(-90)">04.05.2010</text><text transform="translate(412,1338) rotate(-90)">08.06.2010</text><text transform="translate(420.4,1338) rotate(-90)">13.07.2010</text><text transform="translate(428.8,1338) rotate(-90)">17.08.2010</text><text transform="translate(437.2,1338) rotate(-90)">21.09.2010</text><text transform="translate(445.6,1338) rotate(-90)">26.10.2010</text><text transform="translate(454,1338) rotate(-90)">30.11.2010</text><text transform="translate(462.4,1338) rotate(-90)">04.01.2011</text><text transform="translate(470.8,1338) rotate(-90)">08.02.2011</text><text transform="translate(479.2,1338) rotate(-90)">15.03.2011</text><text transform="translate(487.6,1338) rotate(-90)">19.04.2011</text><text transform="translate(496,1338) rotate(-90)">24.05.2011</text><text transform="translate(504.4,1338) rotate(-90)">28.06.2011</text><text transform="translate(512.8,1338) rotate(-90)">02.08.2011</text><text transform="translate(521.2,1338) rotate(-90)">06.09.2011</text><text transform="translate(529.6,1338) rotate(-90)">11.10.2011</text><text transform="translate(538,1338) rotate(-90)">15.11.2011</text><text transform="translate(546.4,1338) rotate(-90)">20.12.2011</text><text transform="translate(554.8,1338) rotate(-90)">24.01.2012</text><text transform="translate(563.2,1338) rotate(-90)">28.02.2012</text><text transform="translate(571.6,1338) rotate(-90)">03.04.2012</text><text transform="translate(580,1338) rotate(-90)">08.05.2012</text><text transform="translate(588.4,1338) rotate(-90)">12.06.2012</text><text transform="translate(596.8,1338) rotate(-90)">17.07.2012</text><text transform="translate(605.2,1338) rotate(-90)">21.08.2012</text><text transform="translate(613.6,1338) rotate(-90)">25.09.2012</text><text transform="translate(622,1338) rotate(-90)">30.10.2012</text><text transform="translate(630.4,1338) rotate(-90)">04.12.2012</text><text transform="translate(638.8,1338) rotate(-90)">08.01.2013</text><text transform="translate(647.2,1338) rotate(-90)">12.02.2013</text><text transform="translate(655.6,1338) rotate(-90)">19.03.2013</text><text transform="translate(664,1338) rotate(-90)">23.04.2013</text><text transform="translate(672.4,1338) rotate(-90)">28.05.2013</text><text transform="translate(680.8,1338) rotate(-90)">02.07.2013</text><text transform="translate(689.2,1338) rotate(-90)">06.08.2013</text><text transform="translate(697.6,1338) rotate(-90)">10.09.2013</text>
</g>
</svg>
</body></html>
